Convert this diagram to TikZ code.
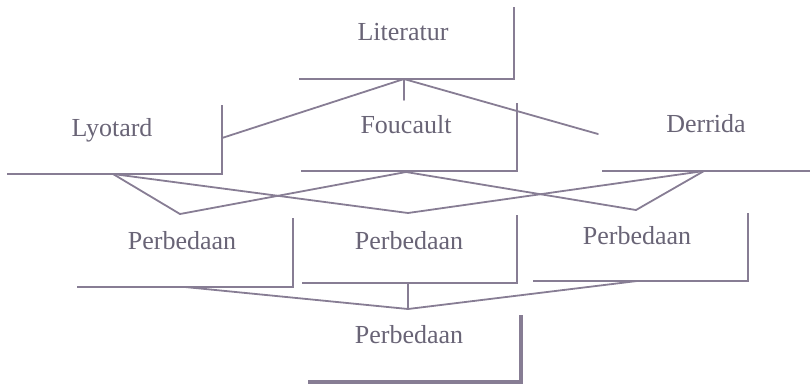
\documentclass[tikz,border=0pt]{standalone}
\usepackage{fontspec}
\setmainfont{Liberation Serif}
\definecolor{inkline}{RGB}{135,125,148}
\definecolor{inktext}{RGB}{105,100,118}
\begin{document}
\begin{tikzpicture}[x=1pt,y=-1pt,
  label/.style={anchor=base,inner sep=0pt,text=inktext,font=\fontsize{26}{30}\selectfont},
  bracket/.style={draw=inkline,line width=1.4pt},
  link/.style={draw=inkline,line width=1.8pt,line cap=round,line join=round},
  heavy/.style={draw=inkline,line width=3.2pt}]
\useasboundingbox (0,0) rectangle (810,389);
% texts
\node[label] (lit) at (403,40) {Literatur};
\node[label] (lyo) at (112,136) {Lyotard};
\node[label] (fou) at (406,133) {Foucault};
\node[label] (der) at (706,132) {Derrida};
\node[label] (p1) at (182,249) {Perbedaan};
\node[label] (p2) at (409,249) {Perbedaan};
\node[label] (p3) at (637,244) {Perbedaan};
\node[label] (pf) at (409,343) {Perbedaan};
% bracket corners and apexes
\coordinate (litL) at (299,79); \coordinate (litC) at (514,79); \coordinate (litT) at (514,7);
\coordinate (litA) at (404,79); \coordinate (litS) at (404,100);
\coordinate (lyoL) at (7,174); \coordinate (lyoC) at (222,174); \coordinate (lyoT) at (222,105);
\coordinate (lyoA) at (113,174); \coordinate (lyoJ) at (222,138);
\coordinate (fouL) at (301,171); \coordinate (fouC) at (517,171); \coordinate (fouT) at (517,103);
\coordinate (fouA) at (406,172);
\coordinate (derL) at (602,171); \coordinate (derR) at (810,171);
\coordinate (derA) at (704,171); \coordinate (derE) at (598,134);
\coordinate (p1t) at (180,214); \coordinate (p2t) at (408,213); \coordinate (p3t) at (636,210);
\coordinate (p1L) at (77,287); \coordinate (p1C) at (293,287); \coordinate (p1T) at (293,218);
\coordinate (p1A) at (185,287);
\coordinate (p2L) at (302,283); \coordinate (p2C) at (517,283); \coordinate (p2T) at (517,215);
\coordinate (p2A) at (408,283);
\coordinate (p3L) at (533,281); \coordinate (p3C) at (748,281); \coordinate (p3T) at (748,213);
\coordinate (p3A) at (637,281);
\coordinate (fA) at (408,309);
\coordinate (pfL) at (308,382); \coordinate (pfC) at (521,382); \coordinate (pfT) at (521,315);
% brackets
\draw[bracket] (litL) -- (litC) -- (litT);
\draw[bracket] (lyoL) -- (lyoC) -- (lyoT);
\draw[bracket] (fouL) -- (fouC) -- (fouT);
\draw[bracket] (derL) -- (derR);
\draw[bracket] (p1L) -- (p1C) -- (p1T);
\draw[bracket] (p2L) -- (p2C) -- (p2T);
\draw[bracket] (p3L) -- (p3C) -- (p3T);
\draw[heavy] (pfL) -- (pfC) -- (pfT);
% connectors
\draw[link] (litA) -- (litS);
\draw[link] (litA) -- (lyoJ);
\draw[link] (litA) -- (derE);
\draw[link] (lyoA) -- (p1t) -- (fouA);
\draw[link] (lyoA) -- (p2t) -- (derA);
\draw[link] (fouA) -- (p3t) -- (derA);
\draw[link] (p1A) -- (fA) -- (p3A);
\draw[link] (p2A) -- (fA);
\end{tikzpicture}
\end{document}
